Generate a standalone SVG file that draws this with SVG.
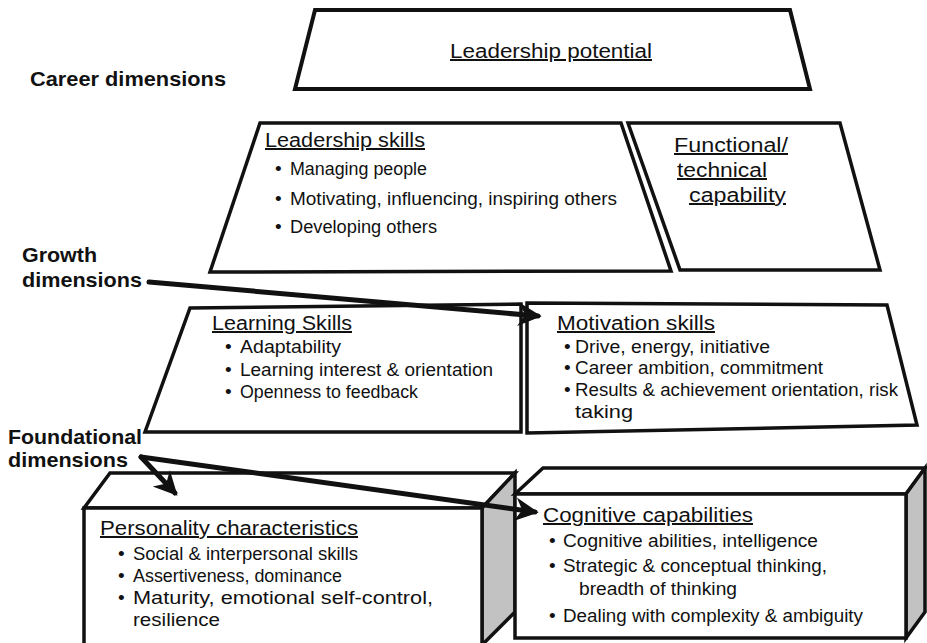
<svg xmlns="http://www.w3.org/2000/svg" width="927" height="643" viewBox="0 0 927 643">
<style>
.box{fill:#fff;stroke:#111;stroke-width:3.5;stroke-linejoin:miter}
.top{fill:#fff;stroke:#111;stroke-width:4}
.side{fill:#c2c2c2;stroke:#111;stroke-width:3.5;stroke-linejoin:miter}
.lbl{font-family:"Liberation Sans",Arial,sans-serif;font-weight:bold;font-size:21px;fill:#111}
.ttl{font-family:"Liberation Sans",Arial,sans-serif;font-size:20px;fill:#111;text-decoration:underline}
.itm{font-family:"Liberation Sans",Arial,sans-serif;font-size:17.5px;fill:#111}
.bul{font-family:"Liberation Sans",Arial,sans-serif;font-size:19px;fill:#111}
.arr{fill:none;stroke:#111;stroke-width:5;stroke-linecap:round}
</style>
<defs>
<marker id="ah" markerUnits="userSpaceOnUse" markerWidth="30" markerHeight="30" refX="0" refY="0" viewBox="-20 -15 30 30" orient="auto" overflow="visible">
<path d="M-18,-10 L2,0 L-18,10 L-12,0 Z" fill="#111" stroke="#111" stroke-width="1.5" stroke-linejoin="miter"/>
</marker>
</defs>

<g id="labels">
<text class="lbl" x="30" y="86" textLength="196" lengthAdjust="spacingAndGlyphs">Career dimensions</text>
<text class="lbl" x="22" y="262" textLength="75" lengthAdjust="spacingAndGlyphs">Growth</text>
<text class="lbl" x="22" y="287" textLength="120" lengthAdjust="spacingAndGlyphs">dimensions</text>
<text class="lbl" x="8" y="444" textLength="134" lengthAdjust="spacingAndGlyphs">Foundational</text>
<text class="lbl" x="8" y="467" textLength="120" lengthAdjust="spacingAndGlyphs">dimensions</text>
</g>

<g id="leadership-potential">
<polygon class="top" points="315,10 790,10 810,89 295,89"/>
<text class="ttl" x="450" y="58" font-size="21" textLength="202" lengthAdjust="spacingAndGlyphs">Leadership potential</text>
</g>

<g id="leadership-skills">
<polygon class="box" points="260,123 621,123 671,271 210,272"/>
<text class="ttl" x="265" y="147" textLength="160" lengthAdjust="spacingAndGlyphs">Leadership skills</text>
<text class="bul" x="275" y="175">•</text>
<text class="itm" x="290" y="175" textLength="137" lengthAdjust="spacingAndGlyphs">Managing people</text>
<text class="bul" x="275" y="205">•</text>
<text class="itm" x="290" y="205" textLength="327" lengthAdjust="spacingAndGlyphs">Motivating, influencing, inspiring others</text>
<text class="bul" x="275" y="233">•</text>
<text class="itm" x="290" y="233" textLength="147" lengthAdjust="spacingAndGlyphs">Developing others</text>
</g>

<g id="functional-capability">
<polygon class="box" points="628,123 840,123 880,270 680,270"/>
<text class="ttl" x="674" y="152" textLength="114" lengthAdjust="spacingAndGlyphs">Functional/</text>
<text class="ttl" x="677" y="177" textLength="90" lengthAdjust="spacingAndGlyphs">technical</text>
<text class="ttl" x="689" y="202" textLength="97" lengthAdjust="spacingAndGlyphs">capability</text>
</g>

<g id="learning-skills">
<polygon class="box" points="190,308 521,304 521,432 145,432"/>
<text class="ttl" x="212" y="330" textLength="140" lengthAdjust="spacingAndGlyphs">Learning Skills</text>
<text class="bul" x="225" y="353">•</text>
<text class="itm" x="240" y="353" textLength="101" lengthAdjust="spacingAndGlyphs">Adaptability</text>
<text class="bul" x="225" y="376">•</text>
<text class="itm" x="240" y="376" textLength="253" lengthAdjust="spacingAndGlyphs">Learning interest &amp; orientation</text>
<text class="bul" x="225" y="398">•</text>
<text class="itm" x="240" y="398" textLength="178" lengthAdjust="spacingAndGlyphs">Openness to feedback</text>
</g>

<g id="motivation-skills">
<polygon class="box" points="527,303 887,305 917,425 527,433"/>
<text class="ttl" x="557" y="330" textLength="158" lengthAdjust="spacingAndGlyphs">Motivation skills</text>
<text class="bul" x="564" y="353" font-size="14">•</text>
<text class="itm" x="575" y="353" textLength="195" lengthAdjust="spacingAndGlyphs">Drive, energy, initiative</text>
<text class="bul" x="564" y="374" font-size="14">•</text>
<text class="itm" x="575" y="374" textLength="248" lengthAdjust="spacingAndGlyphs">Career ambition, commitment</text>
<text class="bul" x="564" y="396" font-size="14">•</text>
<text class="itm" x="575" y="396" textLength="323" lengthAdjust="spacingAndGlyphs">Results &amp; achievement orientation, risk</text>
<text class="itm" x="575" y="418" textLength="58" lengthAdjust="spacingAndGlyphs">taking</text>
</g>

<g id="personality-characteristics">
<polygon class="box" points="84,508 110,473 515,473 482,508"/>
<polygon class="side" points="482,508 515,473 515,612 482,645"/>
<rect class="box" x="84" y="508" width="398" height="140"/>
<text class="ttl" x="100" y="535" textLength="258" lengthAdjust="spacingAndGlyphs">Personality characteristics</text>
<text class="bul" x="118" y="560">•</text>
<text class="itm" x="133" y="560" textLength="225" lengthAdjust="spacingAndGlyphs">Social &amp; interpersonal skills</text>
<text class="bul" x="118" y="582">•</text>
<text class="itm" x="133" y="582" textLength="209" lengthAdjust="spacingAndGlyphs">Assertiveness, dominance</text>
<text class="bul" x="118" y="604">•</text>
<text class="itm" x="133" y="604" textLength="300" lengthAdjust="spacingAndGlyphs">Maturity, emotional self-control,</text>
<text class="itm" x="133" y="626" textLength="87" lengthAdjust="spacingAndGlyphs">resilience</text>
</g>

<g id="cognitive-capabilities">
<polygon class="box" points="515,494 543,468 925,468 906,494"/>
<polygon class="side" points="906,494 925,468 925,612 906,638"/>
<rect class="box" x="515" y="494" width="391" height="144"/>
<text class="ttl" x="543" y="522" textLength="210" lengthAdjust="spacingAndGlyphs">Cognitive capabilities</text>
<text class="bul" x="549" y="547">•</text>
<text class="itm" x="563" y="547" textLength="255" lengthAdjust="spacingAndGlyphs">Cognitive abilities, intelligence</text>
<text class="bul" x="549" y="572">•</text>
<text class="itm" x="563" y="572" textLength="264" lengthAdjust="spacingAndGlyphs">Strategic &amp; conceptual thinking,</text>
<text class="itm" x="579" y="595" textLength="158" lengthAdjust="spacingAndGlyphs">breadth of thinking</text>
<text class="bul" x="549" y="622">•</text>
<text class="itm" x="563" y="622" textLength="300" lengthAdjust="spacingAndGlyphs">Dealing with complexity &amp; ambiguity</text>
</g>

<g id="connectors">
<line class="arr" x1="149" y1="282" x2="538" y2="316" marker-end="url(#ah)"/>
<line class="arr" x1="141" y1="457" x2="175" y2="493" marker-end="url(#ah)"/>
<line class="arr" x1="141" y1="457" x2="535" y2="512" marker-end="url(#ah)"/>
</g>
</svg>
